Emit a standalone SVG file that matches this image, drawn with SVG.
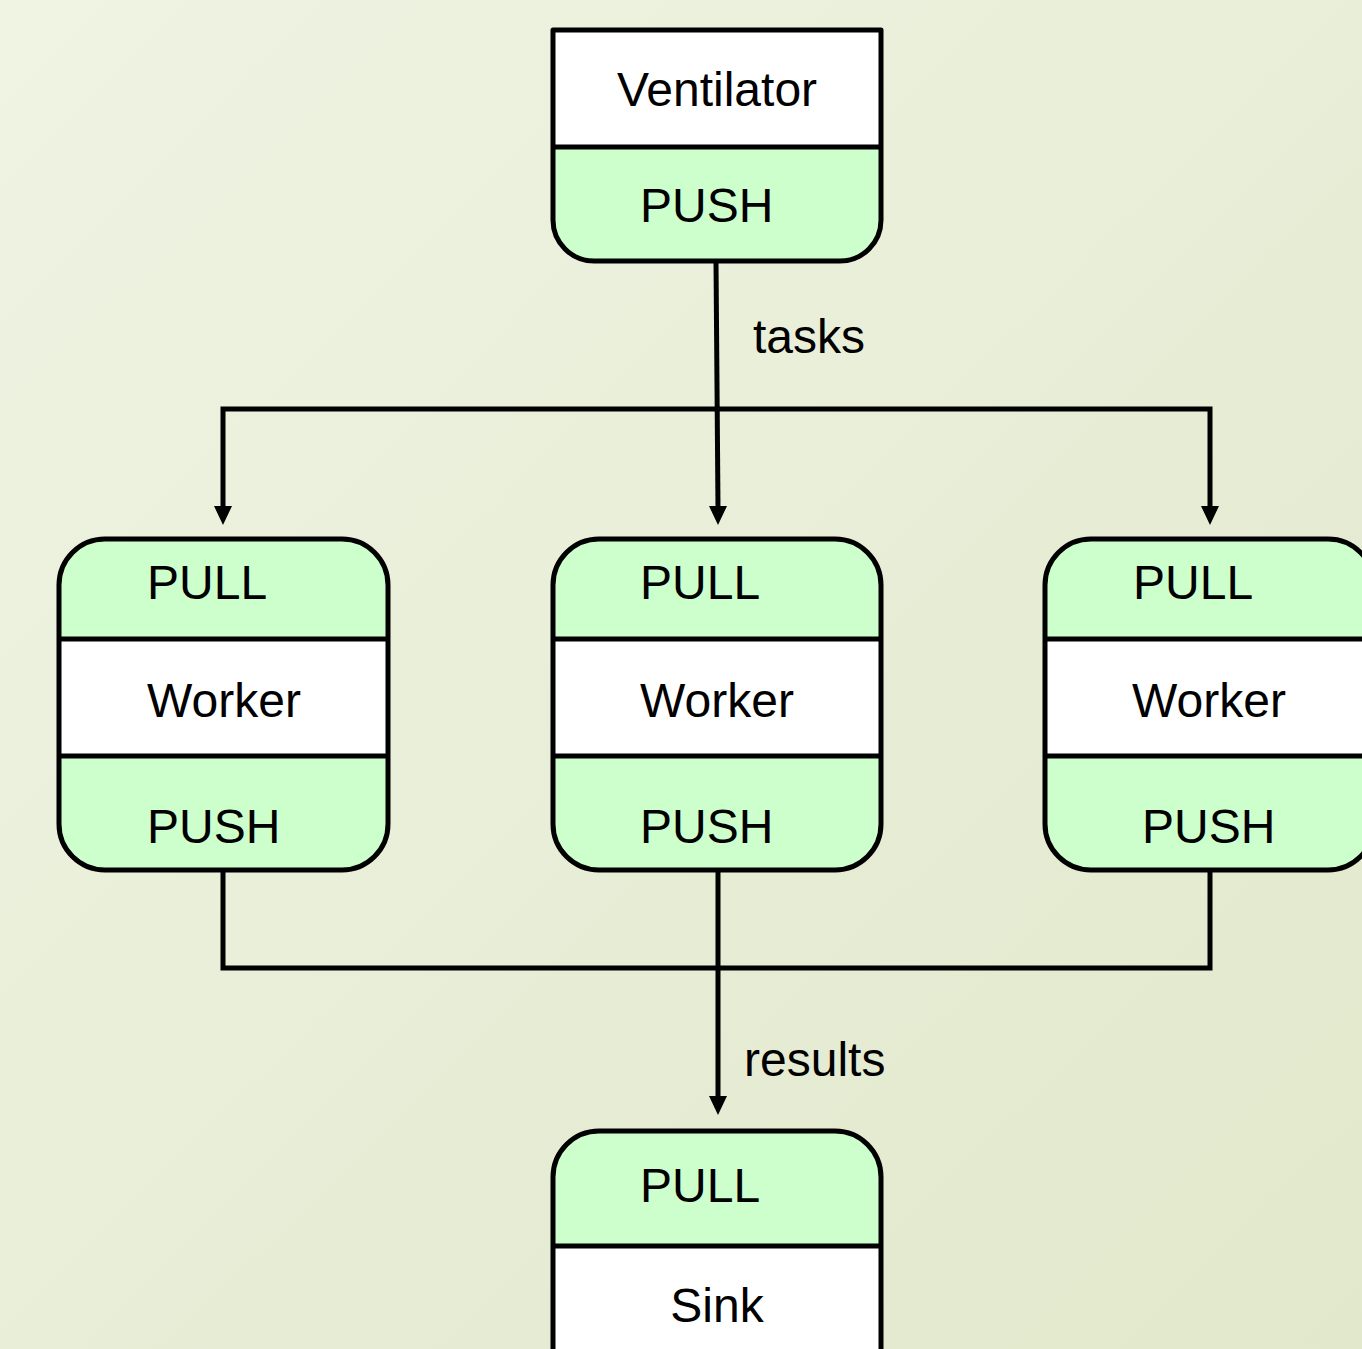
<svg xmlns="http://www.w3.org/2000/svg" width="1362" height="1349" viewBox="0 0 1362 1349">
<defs>
<linearGradient id="bg" x1="0" y1="0" x2="1" y2="1">
<stop offset="0" stop-color="#eff4e3"/>
<stop offset="1" stop-color="#e1e8cb"/>
</linearGradient>
</defs>
<style>
.o{fill:none;stroke:#000;stroke-width:5;stroke-linejoin:round}
.g{fill:#ccffcc}
.w{fill:#fff}
.t{font-family:"Liberation Sans",Arial,sans-serif;font-size:48px;fill:#000}
.c{text-anchor:middle}
.ln{fill:none;stroke:#000;stroke-width:5}
.ah{fill:#000}
</style>
<rect x="0" y="0" width="1362" height="1349" fill="url(#bg)"/>

<g id="connectors">
<path class="ln" d="M716,262 L718,508"/>
<path class="ln" d="M223,508 V409 H1210 V508"/>
<path class="ah" d="M214,506 L232,506 L223,525 Z M1201,506 L1219,506 L1210,525 Z M709,506 L727,506 L718,525 Z"/>
<path class="ln" d="M223,870 V968 H1210 V870"/>
<path class="ln" d="M718,870 V1098"/>
<path class="ah" d="M709,1096 L727,1096 L718,1115 Z"/>
<text class="t" x="753" y="353">tasks</text>
<text class="t" x="744" y="1076">results</text>
</g>

<g id="ventilator">
<rect class="w" x="553" y="30" width="328" height="117"/>
<path class="g" d="M553,147 H881 V220 A41,41 0 0 1 840,261 H594 A41,41 0 0 1 553,220 Z"/>
<path class="o" d="M553,30 H881 V220 A41,41 0 0 1 840,261 H594 A41,41 0 0 1 553,220 Z M553,147 H881"/>
<text class="t c" x="717" y="106">Ventilator</text>
<text class="t" x="640" y="222">PUSH</text>
</g>

<g id="worker1">
<rect class="g" x="59" y="539" width="329" height="331" rx="46"/>
<rect class="w" x="59" y="639" width="329" height="117"/>
<rect class="o" x="59" y="539" width="329" height="331" rx="46"/>
<path class="o" d="M59,639 H388 M59,756 H388"/>
<text class="t" x="147" y="599">PULL</text>
<text class="t c" x="224" y="717">Worker</text>
<text class="t" x="147" y="843">PUSH</text>
</g>

<g id="worker2">
<rect class="g" x="553" y="539" width="328" height="331" rx="46"/>
<rect class="w" x="553" y="639" width="328" height="117"/>
<rect class="o" x="553" y="539" width="328" height="331" rx="46"/>
<path class="o" d="M553,639 H881 M553,756 H881"/>
<text class="t" x="640" y="599">PULL</text>
<text class="t c" x="717" y="717">Worker</text>
<text class="t" x="640" y="843">PUSH</text>
</g>

<g id="worker3">
<rect class="g" x="1045" y="539" width="329" height="331" rx="46"/>
<rect class="w" x="1045" y="639" width="329" height="117"/>
<rect class="o" x="1045" y="539" width="329" height="331" rx="46"/>
<path class="o" d="M1045,639 H1374 M1045,756 H1374"/>
<text class="t" x="1133" y="599">PULL</text>
<text class="t c" x="1209" y="717">Worker</text>
<text class="t" x="1142" y="843">PUSH</text>
</g>

<g id="sink">
<path class="g" d="M553,1400 V1177 A46,46 0 0 1 599,1131 H835 A46,46 0 0 1 881,1177 V1400 Z"/>
<rect class="w" x="553" y="1246" width="328" height="160"/>
<path class="o" d="M553,1400 V1177 A46,46 0 0 1 599,1131 H835 A46,46 0 0 1 881,1177 V1400 M553,1246 H881"/>
<text class="t" x="640" y="1202">PULL</text>
<text class="t c" x="717" y="1322">Sink</text>
</g>
</svg>
